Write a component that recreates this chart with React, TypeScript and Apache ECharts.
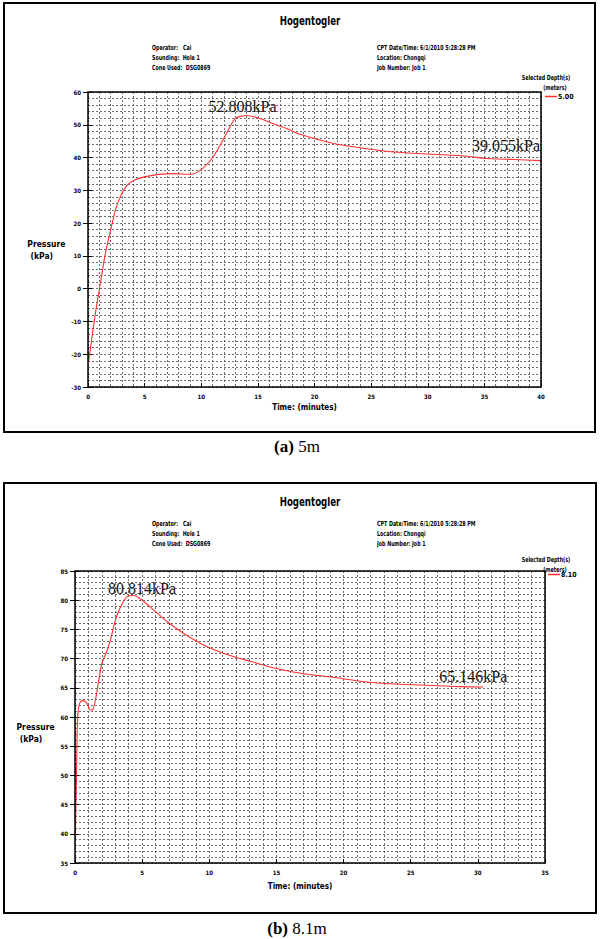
import React, { useEffect, useRef } from 'react';
import * as echarts from 'echarts';

// ---------- data ----------
const timeA = [0.05, 0.65, 1.09, 1.53, 2.06, 2.41, 2.85, 3.44, 4.03, 5, 6.1, 7.56, 9.03, 9.9, 10.8, 11.5, 12.3, 13, 14, 15.2, 16.4, 17.6, 18.7, 21.7, 24.6, 27, 30.5, 33.5, 35.2, 37.6, 40];
const pressureA = [-22.3, -7.6, 1.5, 10.7, 18.8, 23.9, 28, 31.5, 33, 34.1, 34.8, 35.1, 34.9, 36.1, 39.1, 42.7, 47.8, 51.9, 52.808, 51.9, 50.3, 48.8, 47.1, 44.3, 42.7, 41.7, 41, 40.4, 39.7, 39.4, 39.055];

const timeB = [0.02, 0.1, 0.17, 0.25, 0.4, 0.65, 0.9, 1.14, 1.34, 1.52, 1.77, 2.01, 2.39, 2.64, 3.01, 3.38, 3.88, 4.4, 5, 5.87, 6.87, 8.1, 9.35, 10.6, 11.84, 13.1, 14.3, 15.6, 16.8, 19.2, 21.7, 24.2, 26.7, 28.7, 30.4];
const pressureB = [39.6, 48.1, 58.3, 61.2, 62.6, 62.8, 62.3, 61.2, 61.3, 62.9, 66.3, 69.2, 71.4, 73.2, 76.6, 78.8, 80.6, 80.814, 80, 78.3, 76.3, 74.3, 72.6, 71.3, 70.3, 69.5, 68.7, 68, 67.5, 66.8, 66.0, 65.6, 65.4, 65.2, 65.146];

const depthA = '5.00';
const depthB = '8.10';
const peakA = [14, 52.808];
const endA = [40, 39.055];
const peakB = [4.4, 80.814];
const endB = [30.4, 65.146];

const xRangeA = [0, 40];
const yRangeA = [-30, 60];
const xRangeB = [0, 35];
const yRangeB = [35, 85];
const xStep = 5;
const yStepA = 10;
const yStepB = 5;

const headerLeft = ['Operator:   Cai', 'Sounding:  Hole 1', 'Cone Used:  DSG0869'];
const headerRight = ['CPT Date/Time: 6/1/2010 5:28:28 PM', 'Location: Chongqi', 'Job Number: Job 1'];
const captions = ['(a)', '(b)'];
const captionText = ['5m', '8.1m'];

const NARROW = '"Liberation Sans Narrow", "DejaVu Sans Condensed", "Arial Narrow", Arial, sans-serif';
const SERIF = '"Liberation Serif", "Times New Roman", serif';

export default function App() {
  const ref = useRef<HTMLDivElement>(null);
  useEffect(() => {
    const chart = echarts.init(ref.current!, null, { renderer: 'svg' });

    const grids = [
      { left: 88, top: 92, width: 453, height: 295 },
      { left: 75, top: 571, width: 470, height: 292 },
    ];
    const frames = [
      { x: 4, y: 3, w: 591, h: 429 },
      { x: 4, y: 483, w: 592, h: 430 },
    ];
    const headerY = [
      { title: 21, rows: [47, 57, 67], sel: 77 },
      { title: 502, rows: [523, 533, 543], sel: 559 },
    ];
    const captionY = [446, 928];

    const gridLine = { color: '#4a4a4a', type: [2, 2] as any, width: 0.8 };

    const mkX = (i: number, range: number[], nameGap: number) => ({
      gridIndex: i,
      type: 'value',
      min: range[0],
      max: range[1],
      interval: xStep,
      name: 'Time: (minutes)',
      nameLocation: 'middle',
      nameGap,
      nameTextStyle: { fontSize: 8, fontWeight: 'bold', fontFamily: NARROW, color: '#000', padding: [0, 20, 0, 0] },
      axisLine: { show: false, onZero: false },
      axisTick: { show: true, inside: true, length: 4, lineStyle: { color: '#000', width: 1 } },
      axisLabel: { fontSize: 6, fontWeight: 'bold', fontFamily: NARROW, color: '#000', margin: 6 },
      splitLine: { show: true, lineStyle: gridLine },
      minorTick: { show: false, splitNumber: 5 },
      minorSplitLine: { show: true, lineStyle: gridLine },
    });
    const mkY = (i: number, range: number[], step: number, nameGap: number, padTop: number) => ({
      gridIndex: i,
      type: 'value',
      min: range[0],
      max: range[1],
      interval: step,
      name: '{p|Pressure}\n{k|(kPa)}',
      nameLocation: 'middle',
      nameRotate: 0,
      nameGap,
      nameTextStyle: {
        align: 'center',
        padding: [padTop, 0, 0, 0],
        rich: {
          p: { fontSize: 8.5, fontWeight: 'bold', fontFamily: NARROW, color: '#000', lineHeight: 12 },
          k: { fontSize: 8.5, fontWeight: 'bold', fontFamily: NARROW, color: '#000', lineHeight: 12, padding: [0, 9, 0, 0] },
        },
      },
      axisLine: { show: false, onZero: false },
      axisTick: { show: true, inside: true, length: 4, lineStyle: { color: '#000', width: 1 } },
      axisLabel: { fontSize: 6, fontWeight: 'bold', fontFamily: NARROW, color: '#000', margin: 7 },
      splitLine: { show: true, lineStyle: gridLine },
      minorTick: { show: false, splitNumber: 5 },
      minorSplitLine: { show: true, lineStyle: gridLine },
    });
    const mkYRight = (i: number, range: number[], step: number) => ({
      gridIndex: i,
      type: 'value',
      position: 'right',
      min: range[0],
      max: range[1],
      interval: step,
      axisLine: { show: false },
      axisTick: { show: true, inside: true, length: 5, lineStyle: { color: '#000', width: 1 } },
      axisLabel: { show: false },
      splitLine: { show: false },
    });

    const fmt = (v: number) => `${v.toFixed(3)}kPa`;
    const annLabel = { show: true, color: '#111', fontFamily: SERIF, fontSize: 16 };

    const small = (text: string, x: number, y: number, align: string) => ({
      type: 'text', z: 100, x, y, scaleX: 0.76,
      style: { text, fontSize: 7, fontWeight: 'bold', fontFamily: NARROW, fill: '#000', align, verticalAlign: 'middle' },
    });

    const graphic: any[] = [];
    frames.forEach((f, i) => {
      graphic.push({ type: 'rect', z: 100, shape: { x: f.x, y: f.y, width: f.w, height: f.h }, style: { fill: 'none', stroke: '#000', lineWidth: 2 } });
      const g = grids[i];
      graphic.push({ type: 'rect', z: 100, shape: { x: g.left, y: g.top, width: g.width, height: g.height }, style: { fill: 'none', stroke: '#000', lineWidth: 1.5 } });
      const h = headerY[i];
      graphic.push({ type: 'text', z: 100, x: 310, y: h.title, scaleX: 0.8, style: { text: 'Hogentogler', fontSize: 12, fontWeight: 'bold', fontFamily: NARROW, fill: '#000', align: 'center', verticalAlign: 'middle' } });
      headerLeft.forEach((t, k) => graphic.push(small(t, 152, h.rows[k], 'left')));
      headerRight.forEach((t, k) => graphic.push(small(t, 377, h.rows[k], 'left')));
      graphic.push(small('Selected Depth(s)', 546, h.sel, 'center'));
      graphic.push(small('(meters)', 555, h.sel + 10, 'center'));
      graphic.push({
        type: 'text', z: 100, x: 297, y: captionY[i],
        style: {
          text: `{b|${captions[i]}} ${captionText[i]}`,
          fontSize: 17, fontFamily: SERIF, fill: '#000', align: 'center', verticalAlign: 'middle',
          rich: { b: { fontSize: 17, fontFamily: SERIF, fontWeight: 'bold', fill: '#000' } },
        },
      });
    });

    const legendText = { fontSize: 7, fontWeight: 'bold', fontFamily: NARROW, color: '#000', padding: [0, 0, 0, -4] };

    const option: any = {
      animation: false,
      backgroundColor: '#fff',
      grid: grids.map((g) => ({ ...g, show: true, backgroundColor: '#fff', borderWidth: 0 })),
      xAxis: [mkX(0, xRangeA, 16), mkX(1, xRangeB, 19)],
      yAxis: [mkY(0, yRangeA, yStepA, 35, 21), mkY(1, yRangeB, yStepB, 38, 32), mkYRight(0, yRangeA, yStepA), mkYRight(1, yRangeB, yStepB)],
      legend: [
        { data: [depthA], left: 545, top: headerY[0].sel + 16, padding: 0, icon: 'rect', itemWidth: 12, itemHeight: 1.5, selectedMode: false, textStyle: legendText },
        { data: [depthB], left: 548, top: headerY[1].sel + 12, padding: 0, icon: 'rect', itemWidth: 12, itemHeight: 1.5, selectedMode: false, textStyle: legendText },
      ],
      graphic,
      series: [
        {
          name: depthA,
          type: 'line',
          xAxisIndex: 0,
          yAxisIndex: 0,
          data: timeA.map((t, k) => [t, pressureA[k]]),
          showSymbol: false,
          smooth: 0.25,
          lineStyle: { color: '#ff3030', width: 1.1 },
          itemStyle: { color: '#ff3030' },
          markPoint: {
            symbol: 'circle',
            symbolSize: 0,
            label: annLabel,
            data: [
              { coord: peakA, label: { ...annLabel, formatter: fmt(peakA[1]), position: 'top', distance: 0, offset: [-4, -1] } },
              { coord: endA, label: { ...annLabel, formatter: fmt(endA[1]), position: 'top', distance: 0, align: 'right', offset: [-1, -7] } },
            ],
          },
        },
        {
          name: depthB,
          type: 'line',
          xAxisIndex: 1,
          yAxisIndex: 1,
          data: timeB.map((t, k) => [t, pressureB[k]]),
          showSymbol: false,
          smooth: 0.25,
          lineStyle: { color: '#ff3030', width: 1.1 },
          itemStyle: { color: '#ff3030' },
          markPoint: {
            symbol: 'circle',
            symbolSize: 0,
            label: annLabel,
            data: [
              { coord: peakB, label: { ...annLabel, formatter: fmt(peakB[1]), position: 'top', distance: 0, offset: [8, 1] } },
              { coord: endB, label: { ...annLabel, formatter: fmt(endB[1]), position: 'top', distance: 0, offset: [-10, -2] } },
            ],
          },
        },
      ],
    };
    chart.setOption(option);
    return () => chart.dispose();
  }, []);
  return <div ref={ref} style={{ position: 'absolute', left: 0, top: 0, width: 600, height: 939, background: '#fff' }} />;
}
